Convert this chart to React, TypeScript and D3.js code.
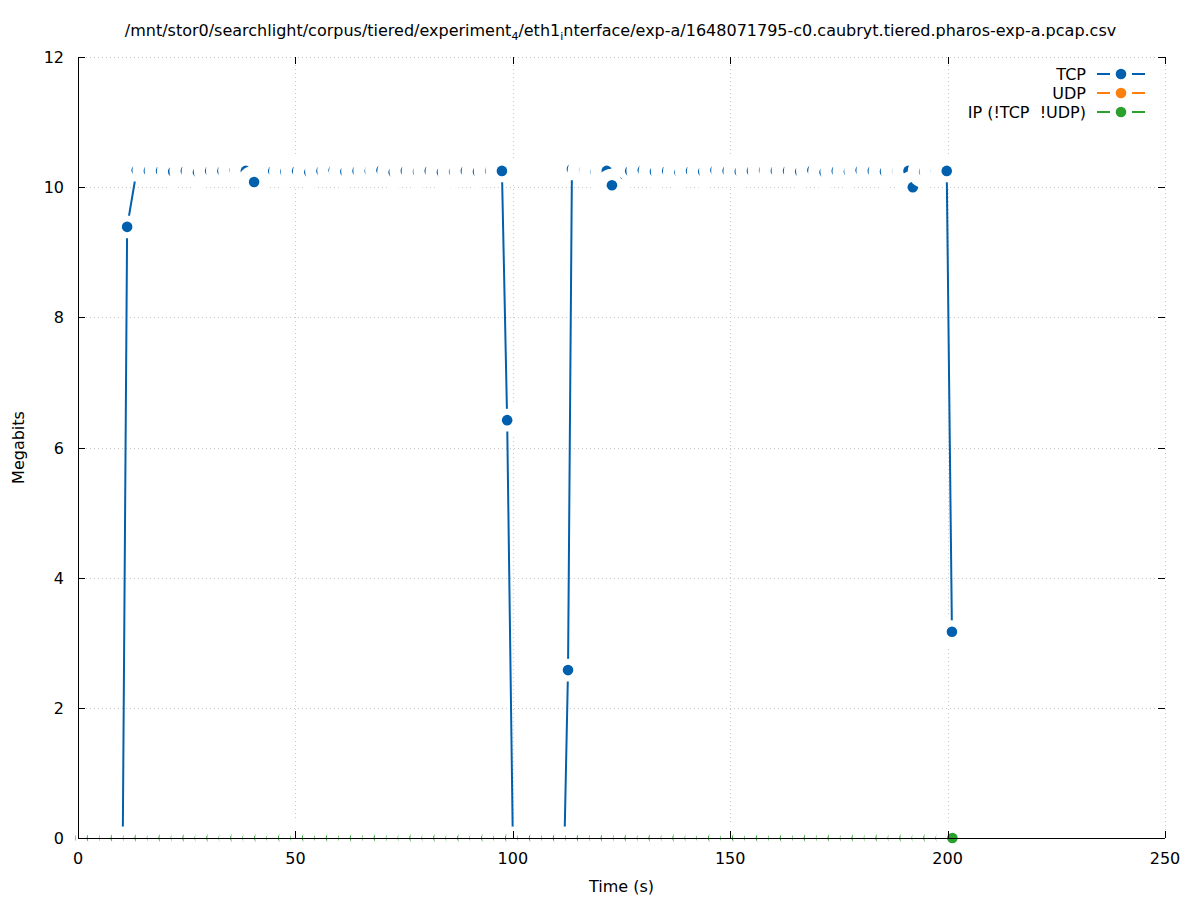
import React from "react";
import * as d3 from "d3";

const W = 1197;
const H = 900;

const xTicks = [0, 50, 100, 150, 200, 250];
const yTicks = [0, 2, 4, 6, 8, 10, 12];

// TCP throughput (Megabits) per sample time (s)
const tcpTime = [
  10.3, 11.3, 13.5, 16.3, 19.1, 21.9, 24.8, 27.6, 30.4, 33.2, 36.0, 38.6, 40.5,
  44.9, 47.7, 50.4, 53.2, 56.0, 58.8, 61.5, 64.3, 67.1, 69.8, 72.6, 75.4, 78.2,
  80.9, 83.7, 86.5, 89.2, 92.0, 94.8, 97.5, 98.7, 100.0, 102.3, 105.0, 107.8,
  110.5, 111.9, 112.7, 113.6, 116.4, 119.0, 121.6, 122.8, 127.0, 129.9, 132.7,
  135.5, 138.3, 141.0, 143.8, 146.6, 149.4, 152.2, 155.0, 157.8, 160.5, 163.3,
  166.1, 168.9, 171.7, 174.5, 177.3, 180.0, 182.8, 185.6, 188.4, 191.0, 192.0,
  194.6, 197.3, 199.8, 201.0,
];
const tcpMbit = [
  0, 9.39, 10.26, 10.25, 10.25, 10.24, 10.25, 10.23, 10.25, 10.25, 10.26, 10.25, 10.08,
  10.25, 10.24, 10.25, 10.23, 10.25, 10.26, 10.24, 10.25, 10.25, 10.26, 10.23, 10.25, 10.24,
  10.25, 10.23, 10.24, 10.25, 10.24, 10.25, 10.25, 6.42, 0, 0, 0, 0,
  0, 0, 2.58, 10.28, 10.25, 10.24, 10.25, 10.03, 10.25, 10.26, 10.24,
  10.25, 10.23, 10.25, 10.24, 10.26, 10.25, 10.24, 10.25, 10.26, 10.25, 10.25,
  10.24, 10.26, 10.23, 10.25, 10.24, 10.26, 10.25, 10.24, 10.25, 10.25, 10.0,
  10.24, 10.25, 10.25, 3.17,
];

// UDP and other IP share the same sample times
const ipTime = [
  0.5, 3.2, 6.0, 8.7, 11.5, 14.2, 17.0, 19.7, 22.5, 25.2, 28.0, 30.7, 33.5, 36.2,
  39.0, 41.7, 44.5, 47.2, 50.0, 52.7, 55.5, 58.2, 61.0, 63.7, 66.5, 69.2, 72.0,
  74.7, 77.4, 80.2, 82.9, 85.7, 88.4, 91.2, 93.9, 96.7, 99.4, 102.2, 104.9, 107.7,
  110.4, 113.2, 115.9, 118.7, 121.4, 124.2, 126.9, 129.7, 132.4, 135.2, 137.9,
  140.7, 143.4, 146.1, 148.9, 151.6, 154.4, 157.1, 159.9, 162.6, 165.4, 168.1,
  170.9, 173.6, 176.4, 179.1, 181.9, 184.6, 187.4, 190.1, 192.9, 195.6, 198.4, 201.1,
];
const udpMbit = [
  0, 0, 0, 0, 0, 0, 0, 0, 0, 0, 0, 0, 0, 0, 0, 0, 0, 0, 0, 0, 0, 0, 0, 0, 0,
  0, 0, 0, 0, 0, 0, 0, 0, 0, 0, 0, 0, 0, 0, 0, 0, 0, 0, 0, 0, 0, 0, 0, 0, 0,
  0, 0, 0, 0, 0, 0, 0, 0, 0, 0, 0, 0, 0, 0, 0, 0, 0, 0, 0, 0, 0, 0, 0, 0,
];
const ipMbit = [
  0, 0, 0, 0, 0, 0, 0, 0, 0, 0, 0, 0, 0, 0, 0, 0, 0, 0, 0, 0, 0, 0, 0, 0, 0,
  0, 0, 0, 0, 0, 0, 0, 0, 0, 0, 0, 0, 0, 0, 0, 0, 0, 0, 0, 0, 0, 0, 0, 0, 0,
  0, 0, 0, 0, 0, 0, 0, 0, 0, 0, 0, 0, 0, 0, 0, 0, 0, 0, 0, 0, 0, 0, 0, 0,
];

const series = [
  { key: "tcp", name: "TCP", color: "#0060ad", time: tcpTime, value: tcpMbit },
  { key: "udp", name: "UDP", color: "#ff7f0e", time: ipTime, value: udpMbit },
  { key: "ip", name: "IP (!TCP  !UDP)", color: "#2ca02c", time: ipTime, value: ipMbit },
];

const DOT = 5.3; // point radius
const GAP = 11.4; // line interruption around each point
const BOX = 16.4; // background disc painted behind each point

export default function App() {
  const x = d3.scaleLinear().domain([0, 250]).range([78, 1165]);
  const y = d3.scaleLinear().domain([0, 12]).range([838, 57]);
  const [x0, x1] = x.range();
  const [y0, y1] = y.range();
  const tick = 7;

  const line = (s: typeof series[0]) =>
    d3.line<number>().x((i) => x(s.time[i])).y((i) => y(s.value[i]))(s.time.map((_, i) => i)) || "";

  return (
    <div style={{ position: "absolute", left: 0, top: 0 }}>
      <svg width={W} height={H} style={{ display: "block", background: "#fff" }} fontFamily="'DejaVu Sans', sans-serif">
        <defs>
          {series.map((s) => (
            <mask key={s.key} id={`gap-${s.key}`} maskUnits="userSpaceOnUse" x={0} y={0} width={W} height={H}>
              <rect width={W} height={H} fill="white" />
              {s.time.map((t, i) => (
                <circle key={i} cx={x(t)} cy={y(s.value[i])} r={GAP} fill="black" />
              ))}
            </mask>
          ))}
        </defs>

        {/* grid */}
        <g stroke="#c8c8c8" strokeWidth={1} strokeDasharray="1 3">
          {xTicks.filter((t) => t > 0).map((t) => (
            <line key={t} x1={Math.round(x(t)) + 0.5} x2={Math.round(x(t)) + 0.5} y1={y0} y2={y1} />
          ))}
          {yTicks.filter((t) => t > 0).map((t) => (
            <line key={t} x1={x0} x2={x1} y1={Math.round(y(t)) + 0.5} y2={Math.round(y(t)) + 0.5} />
          ))}
        </g>

        {/* points, each with its background disc */}
        {series.map((s) => (
          <g key={s.key}>
            {s.time.map((t, i) => (
              <g key={i}>
                <circle cx={x(t)} cy={y(s.value[i])} r={BOX} fill="#fff" />
                <circle cx={x(t)} cy={y(s.value[i])} r={DOT} fill={s.color} />
              </g>
            ))}
          </g>
        ))}

        {/* lines */}
        {series.map((s) => (
          <path key={s.key} d={line(s)} fill="none" stroke={s.color} strokeWidth={2} mask={`url(#gap-${s.key})`} />
        ))}

        {/* axes */}
        <g stroke="#000" strokeWidth={1} fill="none">
          <line x1={x0 + 0.5} x2={x0 + 0.5} y1={y1} y2={y0 + 0.5} />
          <line x1={x0} x2={x1} y1={y0 + 0.5} y2={y0 + 0.5} />
          {xTicks.map((t) => (
            <g key={t}>
              <line x1={Math.round(x(t)) + 0.5} x2={Math.round(x(t)) + 0.5} y1={y0} y2={y0 - tick} />
              <line x1={Math.round(x(t)) + 0.5} x2={Math.round(x(t)) + 0.5} y1={y1} y2={y1 + tick} />
            </g>
          ))}
          {yTicks.map((t) => (
            <g key={t}>
              <line x1={x0} x2={x0 + tick} y1={Math.round(y(t)) + 0.5} y2={Math.round(y(t)) + 0.5} />
              <line x1={x1} x2={x1 - tick} y1={Math.round(y(t)) + 0.5} y2={Math.round(y(t)) + 0.5} />
            </g>
          ))}
        </g>

        <g fontSize={16} fill="#000">
          {xTicks.map((t) => (
            <text key={t} x={x(t)} y={y0 + 26} textAnchor="middle">{t}</text>
          ))}
          {yTicks.map((t) => (
            <text key={t} x={x0 - 14} y={y(t) + 6} textAnchor="end">{t}</text>
          ))}
          <text x={(x0 + x1) / 2} y={892} textAnchor="middle">Time (s)</text>
          <text transform={`translate(24,${(y0 + y1) / 2}) rotate(-90)`} textAnchor="middle">Megabits</text>
          <text x={620.5} y={36} textAnchor="middle">
            /mnt/stor0/searchlight/corpus/tiered/experiment
            <tspan fontSize={11} dy={4}>4</tspan>
            <tspan dy={-4}>/eth1</tspan>
            <tspan fontSize={11} dy={4}>i</tspan>
            <tspan dy={-4}>nterface/exp-a/1648071795-c0.caubryt.tiered.pharos-exp-a.pcap.csv</tspan>
          </text>
        </g>

        {/* legend */}
        <g fontSize={16}>
          {series.map((s, i) => {
            const ly = 74 + i * 19;
            return (
              <g key={s.key}>
                <text x={1086} y={ly + 6} textAnchor="end" style={{ whiteSpace: "pre" }}>{s.name}</text>
                <line x1={1097} x2={1110} y1={ly} y2={ly} stroke={s.color} strokeWidth={2} />
                <line x1={1132} x2={1145} y1={ly} y2={ly} stroke={s.color} strokeWidth={2} />
                <circle cx={1121} cy={ly} r={DOT} fill={s.color} />
              </g>
            );
          })}
        </g>
      </svg>
    </div>
  );
}
